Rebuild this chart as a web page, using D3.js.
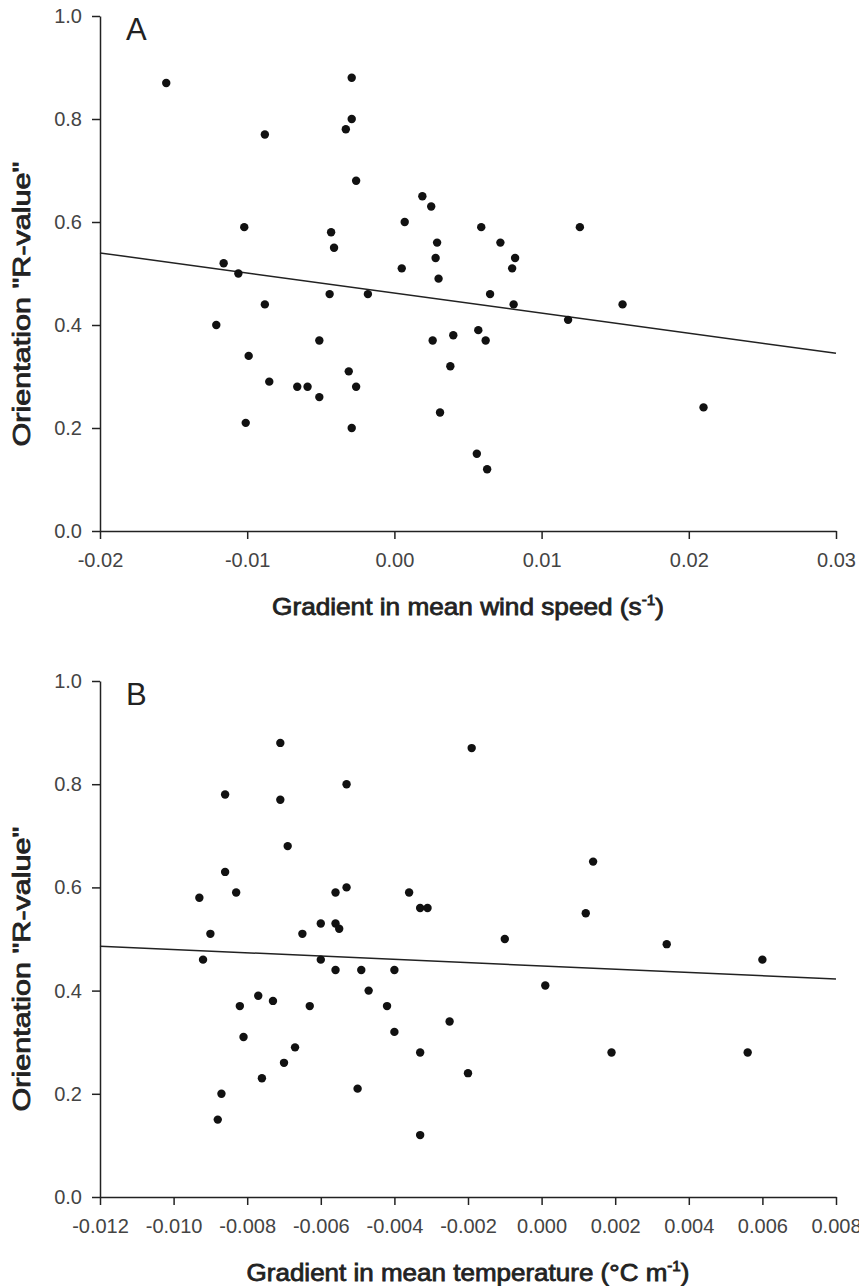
<!DOCTYPE html>
<html>
<head>
<meta charset="utf-8">
<script src="https://cdn.jsdelivr.net/npm/d3@7"></script>
<style>
  body { margin: 0; background: #fff; }
  svg { display: block; }
  text { font-family: "Liberation Sans", Arial, sans-serif; }
</style>
</head>
<body>
<div id="chart"></div>
<script>
// Panel A: gradient in mean wind speed vs orientation R-value
const windX = [-0.0155, -0.0029, -0.0029, -0.0033, -0.0088, -0.0026, 0.0019, 0.0025, -0.0102, -0.0043,
  0.0007, -0.0041, -0.0116, -0.0106, 0.0005, -0.0044, -0.0018, -0.0088, 0.0059, 0.0029,
  0.0072, 0.0028, 0.0082, 0.0080, 0.0030, 0.0126, 0.0065, 0.0081, 0.0155, 0.0118,
  -0.0121, -0.0051, -0.0099, -0.0085, -0.0031, -0.0066, -0.0059, -0.0026, -0.0051, -0.0101,
  -0.0029, 0.0026, 0.0040, 0.0057, 0.0062, 0.0038, 0.0031, 0.0056, 0.0063, 0.0210];
const windR = [0.87, 0.88, 0.80, 0.78, 0.77, 0.68, 0.65, 0.63, 0.59, 0.58,
  0.60, 0.55, 0.52, 0.50, 0.51, 0.46, 0.46, 0.44, 0.59, 0.56,
  0.56, 0.53, 0.53, 0.51, 0.49, 0.59, 0.46, 0.44, 0.44, 0.41,
  0.40, 0.37, 0.34, 0.29, 0.31, 0.28, 0.28, 0.28, 0.26, 0.21,
  0.20, 0.37, 0.38, 0.39, 0.37, 0.32, 0.23, 0.15, 0.12, 0.24];
const windFit = [[-0.02, 0.54], [0.03, 0.345]];
const windTicks = [-0.02, -0.01, 0.00, 0.01, 0.02, 0.03];

// Panel B: gradient in mean temperature vs orientation R-value
const tempX = [-0.0071, -0.0053, -0.0086, -0.0071, -0.0069, -0.0086, -0.0053, -0.0093, -0.0083, -0.0056,
  -0.0036, -0.0033, -0.0031, -0.0060, -0.0056, -0.0055, -0.0090, -0.0065, -0.0092, -0.0060,
  -0.0056, -0.0049, -0.0040, -0.0019, 0.0014, 0.0012, -0.0010, 0.0034, 0.0060, -0.0047,
  -0.0077, -0.0073, -0.0082, -0.0063, -0.0042, -0.0081, -0.0040, -0.0067, -0.0070, -0.0033,
  -0.0076, -0.0087, -0.0050, -0.0088, -0.0033, 0.0001, -0.0025, -0.0020, 0.0019, 0.0056];
const tempR = [0.88, 0.80, 0.78, 0.77, 0.68, 0.63, 0.60, 0.58, 0.59, 0.59,
  0.59, 0.56, 0.56, 0.53, 0.53, 0.52, 0.51, 0.51, 0.46, 0.46,
  0.44, 0.44, 0.44, 0.87, 0.65, 0.55, 0.50, 0.49, 0.46, 0.40,
  0.39, 0.38, 0.37, 0.37, 0.37, 0.31, 0.32, 0.29, 0.26, 0.28,
  0.23, 0.20, 0.21, 0.15, 0.12, 0.41, 0.34, 0.24, 0.28, 0.28];
const tempFit = [[-0.012, 0.486], [0.008, 0.4225]];
const tempTicks = [-0.012, -0.010, -0.008, -0.006, -0.004, -0.002, 0.000, 0.002, 0.004, 0.006, 0.008];

const yTicks = [0.0, 0.2, 0.4, 0.6, 0.8, 1.0];

const width = 859, height = 1286;
const svg = d3.select("#chart").append("svg")
  .attr("width", width)
  .attr("height", height);

// stretch a text horizontally so it spans the wanted width
function fitWidth(sel, w) {
  const bw = sel.node().getBBox().width;
  sel.attr("transform", `scale(${w / bw},1)`);
}

function drawPanel(opts) {
  const x = d3.scaleLinear().domain(opts.xDomain).range([100, 836]);
  const y = d3.scaleLinear().domain([0, 1]).range([opts.bottom, opts.top]);
  const g = svg.append("g");

  const xAxis = d3.axisBottom(x)
    .tickValues(opts.xTicks)
    .tickFormat(d => d3.format(opts.fmt)(d).replace("\u2212", "-"))
    .tickSize(8).tickSizeOuter(0).tickPadding(14);
  const yAxis = d3.axisLeft(y)
    .tickValues(yTicks)
    .tickFormat(d3.format(".1f"))
    .tickSize(8).tickSizeOuter(0).tickPadding(10);

  const gx = g.append("g").attr("transform", `translate(0,${opts.bottom})`).call(xAxis);
  const gy = g.append("g").attr("transform", "translate(100,0)").call(yAxis);
  [gx, gy].forEach(a => {
    a.selectAll("path, line").attr("stroke", "#222").attr("stroke-width", 1.5);
    a.selectAll("text").attr("fill", "#444").style("font-size", "20px");
  });

  // regression line
  g.append("path")
    .datum(opts.fit)
    .attr("d", d3.line().x(d => x(d[0])).y(d => y(d[1])))
    .attr("fill", "none")
    .attr("stroke", "#222")
    .attr("stroke-width", 1.5);

  // points
  g.selectAll("circle")
    .data(opts.xs.map((v, i) => [v, opts.ys[i]]))
    .enter()
    .append("circle")
    .attr("cx", d => x(d[0]))
    .attr("cy", d => y(d[1]))
    .attr("r", 4.2)
    .attr("fill", "#111");

  // panel letter
  g.append("text")
    .attr("x", 126)
    .attr("y", y(1) + 24)
    .style("font-size", "31px")
    .attr("fill", "#222")
    .text(opts.letter);

  // x title
  const xg = g.append("g").attr("transform", `translate(468,${opts.bottom + 84})`);
  const xt = xg.append("text")
    .attr("text-anchor", "middle")
    .style("font-size", "24px")
    .attr("fill", "#222")
    .attr("stroke", "#222")
    .attr("stroke-width", 0.8);
  xt.append("tspan").text(opts.xTitle);
  xt.append("tspan").attr("dy", -10).style("font-size", "14px").text("-1");
  xt.append("tspan").attr("dy", 10).text(")");
  fitWidth(xt, opts.xTitleW);

  // y title
  const yg = g.append("g")
    .attr("transform", `translate(30,${opts.top + 288}) rotate(-90)`);
  const yt = yg.append("text")
    .attr("text-anchor", "middle")
    .style("font-size", "24px")
    .attr("fill", "#222")
    .attr("stroke", "#222")
    .attr("stroke-width", 0.8)
    .text("Orientation \"R-value\"");
  fitWidth(yt, 285);
}

drawPanel({
  xs: windX, ys: windR, fit: windFit, xTicks: windTicks, xDomain: [-0.02, 0.03],
  fmt: ".2f", top: 16, bottom: 531, letter: "A",
  xTitle: "Gradient in mean wind speed (s", xTitleW: 392
});

drawPanel({
  xs: tempX, ys: tempR, fit: tempFit, xTicks: tempTicks, xDomain: [-0.012, 0.008],
  fmt: ".3f", top: 681, bottom: 1197, letter: "B",
  xTitle: "Gradient in mean temperature (\u00b0C m", xTitleW: 443
});
</script>
</body>
</html>
